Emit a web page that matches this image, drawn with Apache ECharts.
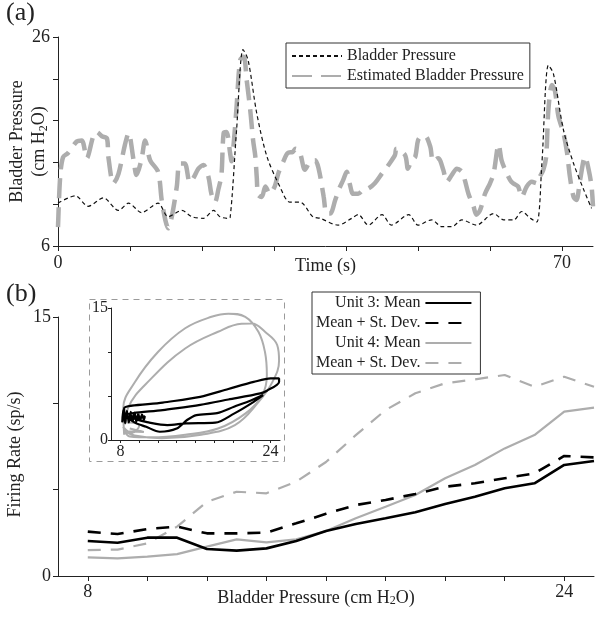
<!DOCTYPE html>
<html>
<head>
<meta charset="utf-8">
<script src="https://cdn.jsdelivr.net/npm/echarts@6/dist/echarts.min.js"></script>
<style>
html,body{margin:0;padding:0;background:#fff;}
#c{width:604px;height:619px;}
</style>
</head>
<body>
<div id="c"></div>
<script>
// ---------- Panel (a): time series (time s, pressure cm H2O) ----------
var bladderPressure = [[0,10.1],[2.4,10.8],[4.2,9.8],[6.3,10.6],[8.4,9.4],[9.8,10.1],[11.6,9.2],[13.9,10.1],[15.3,8.8],[17.2,9.4],[18.6,8.8],[20.2,8.65],[21.6,9.4],[22.5,8.8],[23.6,8.65],[23.9,8.7],[24.8,17.1],[25.7,24.8],[26.4,23.8],[27.6,18.7],[29.0,14.6],[30.8,11.7],[32.2,10.2],[33.6,10.2],[35.4,8.8],[36.4,8.65],[38.9,8.0],[40.8,8.65],[41.7,9.0],[43.1,8.0],[45.0,9.0],[46.3,8.0],[48.7,9.0],[50.0,8.0],[51.9,8.5],[53.3,7.85],[54.7,7.85],[56.1,8.5],[58.1,8.0],[60.5,9.1],[61.9,8.5],[63.3,8.5],[64.4,9.3],[65.6,8.65],[66.5,8.3],[67.2,13.9],[68.1,23.3],[68.8,22.5],[70.2,17.1],[71.6,13.9],[73.0,11.4],[74.1,9.6]];
var estimatedPressure = [[0,7.8],[0.3,12.6],[0.7,14.5],[1.4,14.9],[2.6,16.0],[3.3,16.1],[4.0,14.4],[4.9,16.5],[5.4,16.9],[6.1,16.5],[6.8,16.3],[7.0,14.5],[7.7,12.0],[8.4,12.9],[9.3,15.7],[9.8,16.8],[10.5,14.2],[10.9,12.8],[11.6,14.3],[12.1,16.1],[12.8,14.2],[13.9,13.1],[14.4,10.4],[14.9,8.5],[15.3,7.7],[15.8,8.8],[16.5,11.7],[16.9,13.9],[17.6,13.9],[18.3,12.1],[18.8,12.5],[19.5,13.4],[20.2,13.75],[20.9,12.6],[21.3,11.0],[21.8,10.2],[22.3,11.5],[22.7,12.8],[23.0,16.8],[23.4,16.9],[23.9,14.9],[24.1,14.1],[24.4,15.8],[24.8,19.3],[25.3,23.8],[25.8,24.1],[26.2,21.9],[26.7,19.0],[27.1,16.1],[27.4,14.6],[27.6,12.6],[27.8,10.9],[28.3,10.7],[28.8,11.7],[29.4,11.0],[30.1,11.7],[30.6,12.95],[31.3,14.1],[31.9,14.9],[32.6,15.0],[33.0,15.3],[33.6,14.9],[34.3,13.3],[35.0,14.1],[35.7,14.2],[36.2,13.4],[36.9,10.7],[37.3,9.1],[37.8,9.1],[38.5,10.4],[39.0,11.4],[39.6,12.3],[40.1,13.1],[40.5,12.0],[41.0,11.0],[41.7,11.0],[42.4,11.4],[43.1,11.5],[44.0,12.0],[45.0,12.95],[45.9,13.75],[46.8,14.7],[47.0,15.3],[48.2,14.7],[48.6,13.4],[49.1,14.2],[49.6,14.5],[50.0,16.1],[50.5,16.5],[51.0,16.5],[51.7,15.5],[52.1,14.1],[52.8,14.4],[53.5,13.3],[54.0,12.15],[54.7,12.8],[55.4,13.4],[56.1,13.1],[56.5,12.3],[57.0,11.0],[57.7,9.8],[58.1,9.0],[58.6,9.4],[59.3,11.0],[60.0,12.0],[60.5,12.95],[61.2,15.7],[61.6,14.2],[62.1,13.3],[62.8,12.3],[63.2,12.0],[63.9,11.7],[64.4,10.7],[65.1,11.7],[65.8,12.15],[66.5,12.0],[66.9,12.6],[67.4,13.3],[67.8,14.55],[68.1,19.0],[68.6,21.4],[69.0,20.9],[69.5,18.4],[70.2,16.8],[70.7,14.9],[71.1,12.6],[71.6,10.7],[72.0,10.4],[72.5,12.3],[73.2,14.55],[73.7,13.3],[74.1,11.7],[74.3,9.8]];
var timeTicks = [0,10,20,30,40,50,60,70];
var timeLabels = [0,70];
var pressureTicks = [6,10,14,18,22,26];
var pressureLabels = [6,26];

// ---------- Panel (b): firing rate vs bladder pressure ----------
var pressureBins = [8,9,10,11,12,13,14,15,16,17,18,19,20,21,22,23,24,25];
var unit3Mean = [2.03,1.93,2.22,2.22,1.56,1.47,1.6,2.03,2.6,3.01,3.34,3.69,4.17,4.59,5.08,5.37,6.43,6.66];
var unit3MeanSd = [2.57,2.43,2.72,2.86,2.47,2.47,2.51,3.05,3.6,4.11,4.4,4.75,5.17,5.37,5.66,5.94,6.95,6.87];
var unit4Mean = [1.08,1.02,1.12,1.27,1.7,2.12,1.95,2.12,2.6,3.34,4.01,4.69,5.66,6.43,7.39,8.16,9.52,9.75];
var unit4MeanSd = [1.5,1.53,1.89,2.86,4.3,4.88,4.79,5.46,6.6,8.16,9.61,10.58,11.16,11.39,11.64,10.96,11.54,10.96];
var rateTicks = [0,5,10,15];
var rateLabels = [0,15];
var bpTicks = [8,10,12,14,16,18,20,22,24];
var bpLabels = [8,24];

// ---------- Inset: raw trajectories ----------
var insetUnit4 = [[8.4,0.6],[8.3,3.6],[9.5,6.5],[12.0,10.0],[14.9,12.7],[17.7,14.0],[19.5,14.36],[21.3,14.0],[22.7,12.3],[23.4,10.0],[23.6,7.4],[23.1,5.1],[21.3,3.0],[18.4,1.3],[14.9,0.6],[11.3,0.3],[9.0,0.4],[8.3,1.5],[9.2,0.8],[10.0,1.6],[9.0,2.0],[8.6,2.0],[8.8,3.6],[11.3,7.0],[14.9,10.4],[18.4,12.3],[20.9,13.2],[22.0,13.23],[23.4,12.3],[24.7,10.8],[24.9,9.0],[24.2,6.6],[22.7,4.3],[20.2,1.7],[16.6,0.6],[12.4,0.2],[9.5,0.5],[8.5,1.0],[10.5,0.9],[9.0,1.3]];
var insetUnit3 = [[8.2,2.0],[8.3,3.4],[8.5,1.9],[8.7,3.3],[8.9,2.0],[9.1,3.2],[9.3,2.1],[9.5,3.1],[9.7,2.1],[9.9,3.0],[10.1,2.2],[10.3,2.9],[10.5,2.3],[10.6,2.7],[9.6,2.5],[8.6,2.6],[8.4,3.6],[12.5,4.25],[16.5,4.9],[19.5,5.8],[22.2,6.6],[24.0,7.0],[24.9,7.0],[24.9,6.6],[23.6,5.6],[22.9,5.3],[19.5,4.6],[16.5,4.0],[12.5,3.4],[8.6,2.8],[9.5,2.0],[10.75,1.5],[12.2,0.94],[14.0,1.3],[15.1,2.27],[16.1,2.83],[18.3,3.05],[20.1,3.78],[21.9,4.5],[23.2,5.1],[22.2,4.34],[20.1,3.0],[18.1,1.97],[15.0,1.89],[13.0,1.7],[11.0,2.0],[9.5,2.4]];
var insetTicks = [8,10,12,14,16,18,20,22,24];
var insetLabels = [8,24];

var FONT = 'Liberation Serif';
var GRAY = '#adadad';
var AX = '#222';

function zip(xs, ys){ return xs.map(function(x,i){ return [x, ys[i]]; }); }

function axisCommon(ticks, labels, fs, margin){
  return {
    nameMoveOverlap:false,
    axisLine: {show:true, onZero:false, lineStyle:{color:AX, width:1}},
    axisTick: {show:true, customValues:ticks, length:5, lineStyle:{color:AX}},
    axisLabel: {customValues:labels, fontFamily:FONT, fontSize:fs, color:'#222', margin:margin},
    splitLine: {show:false}
  };
}

var chart = echarts.init(document.getElementById('c'), null, {renderer:'canvas'});

var xa = Object.assign({type:'value', gridIndex:0, min:0, max:74.3,
  name:'Time (s)', nameLocation:'middle', nameGap:11,
  nameTextStyle:{fontFamily:FONT, fontSize:18, color:'#222', verticalAlign:'top'}}, axisCommon(timeTicks,timeLabels,18,8));
var ya = Object.assign({type:'value', gridIndex:0, min:6, max:26,
  name:'Bladder Pressure\n(cm H{sub|2}O)', nameLocation:'middle', nameGap:8,
  nameTextStyle:{fontFamily:FONT, fontSize:18, color:'#222', lineHeight:22,
    rich:{sub:{fontFamily:FONT, fontSize:12, color:'#222', verticalAlign:'bottom', lineHeight:18}}}}, axisCommon(pressureTicks,pressureLabels,18,8));
var xb = Object.assign({type:'value', gridIndex:1, min:7, max:25,
  name:'Bladder Pressure (cm H{sub|2}O)', nameLocation:'middle', nameGap:13,
  nameTextStyle:{fontFamily:FONT, fontSize:18, color:'#222', verticalAlign:'top', padding:[0,20,0,0],
    rich:{sub:{fontFamily:FONT, fontSize:12, color:'#222', verticalAlign:'bottom', lineHeight:18}}}}, axisCommon(bpTicks,bpLabels,18,7));
var yb = Object.assign({type:'value', gridIndex:1, min:0, max:15,
  name:'Firing Rate (sp/s)', nameLocation:'middle', nameGap:34,
  nameTextStyle:{fontFamily:FONT, fontSize:18, color:'#222', padding:[0,16,0,0]}}, axisCommon(rateTicks,rateLabels,18,7));
var xi = Object.assign({type:'value', gridIndex:2, min:7, max:25}, axisCommon(insetTicks,insetLabels,16,4));
xi.axisTick.length = 3;
var yi = Object.assign({type:'value', gridIndex:2, min:0, max:15}, axisCommon(rateTicks,rateLabels,16,3));
yi.axisTick.length = 3;

var option = {
  animation:false,
  backgroundColor:'#fff',
  textStyle:{fontFamily:FONT},
  title:[
    {text:'(a)', left:6, top:0, textStyle:{fontFamily:FONT, fontSize:26, fontWeight:'normal', color:'#222'}, padding:0},
    {text:'(b)', left:6, top:281, textStyle:{fontFamily:FONT, fontSize:26, fontWeight:'normal', color:'#222'}, padding:0}
  ],
  grid:[
    {left:58, top:37, right:11, height:209, outerBoundsMode:'none', containLabel:false},
    {left:58, top:317, right:10, height:259, outerBoundsMode:'none', containLabel:false},
    {left:111, top:308, width:169, height:132, outerBoundsMode:'none', containLabel:false}
  ],
  xAxis:[xa, xb, xi],
  yAxis:[ya, yb, yi],
  legend:[
    {data:['Bladder Pressure','Estimated Bladder Pressure'], left:286, top:43, orient:'vertical',
     itemWidth:50, itemHeight:10, itemGap:4, padding:[5,6,4,5], borderColor:'#333', borderWidth:1,
     backgroundColor:'#fff', selectedMode:false, itemStyle:{opacity:0},
     textStyle:{fontFamily:FONT, fontSize:16, color:'#222'}},
    {data:['Unit 3: Mean','Unit 3: Mean + St. Dev.','Unit 4: Mean','Unit 4: Mean + St. Dev.'],
     left:312, top:292, orient:'vertical', align:'right',
     itemWidth:46, itemHeight:10, itemGap:4, padding:[3,8,3,4], borderColor:'#333', borderWidth:1,
     backgroundColor:'#fff', selectedMode:false, itemStyle:{opacity:0},
     formatter:function(n){ return n.replace(/^Unit \d: (Mean \+ St\. Dev\.)$/, '$1'); },
     textStyle:{fontFamily:FONT, fontSize:16, color:'#222', width:106, align:'right'}}
  ],
  graphic:[
    {type:'rect', shape:{x:89.5, y:299.5, width:195, height:162}, z:-1,
     style:{fill:'#fff', stroke:'#9a9a9a', lineWidth:1, lineDash:[6,5]}}
  ],
  series:[
    {name:'Estimated Bladder Pressure', type:'line', xAxisIndex:0, yAxisIndex:0, data:estimatedPressure,
     showSymbol:false, symbol:'none', smooth:0.3, lineStyle:{color:GRAY, width:4.5, type:[20,9]}, itemStyle:{color:GRAY}},
    {name:'Bladder Pressure', type:'line', xAxisIndex:0, yAxisIndex:0, data:bladderPressure,
     showSymbol:false, symbol:'none', smooth:0.3, lineStyle:{color:'#111', width:1.2, type:[4,3]}, itemStyle:{color:'#111'}},

    {name:'Unit 4: Mean + St. Dev.', type:'line', xAxisIndex:1, yAxisIndex:1, data:zip(pressureBins,unit4MeanSd),
     showSymbol:false, symbol:'none', lineStyle:{color:GRAY, width:2.2, type:[13,10]}, itemStyle:{color:GRAY}},
    {name:'Unit 4: Mean', type:'line', xAxisIndex:1, yAxisIndex:1, data:zip(pressureBins,unit4Mean),
     showSymbol:false, symbol:'none', lineStyle:{color:GRAY, width:2.2}, itemStyle:{color:GRAY}},
    {name:'Unit 3: Mean + St. Dev.', type:'line', xAxisIndex:1, yAxisIndex:1, data:zip(pressureBins,unit3MeanSd),
     showSymbol:false, symbol:'none', lineStyle:{color:'#000', width:2.6, type:[13,10]}, itemStyle:{color:'#000'}},
    {name:'Unit 3: Mean', type:'line', xAxisIndex:1, yAxisIndex:1, data:zip(pressureBins,unit3Mean),
     showSymbol:false, symbol:'none', lineStyle:{color:'#000', width:2.6}, itemStyle:{color:'#000'}},

    {name:'inset4', type:'line', xAxisIndex:2, yAxisIndex:2, data:insetUnit4,
     showSymbol:false, symbol:'none', smooth:0.4, lineStyle:{color:GRAY, width:2}},
    {name:'inset3', type:'line', xAxisIndex:2, yAxisIndex:2, data:insetUnit3,
     showSymbol:false, symbol:'none', smooth:0.3, lineStyle:{color:'#000', width:2.2}}
  ]
};
chart.setOption(option);
</script>
</body>
</html>
